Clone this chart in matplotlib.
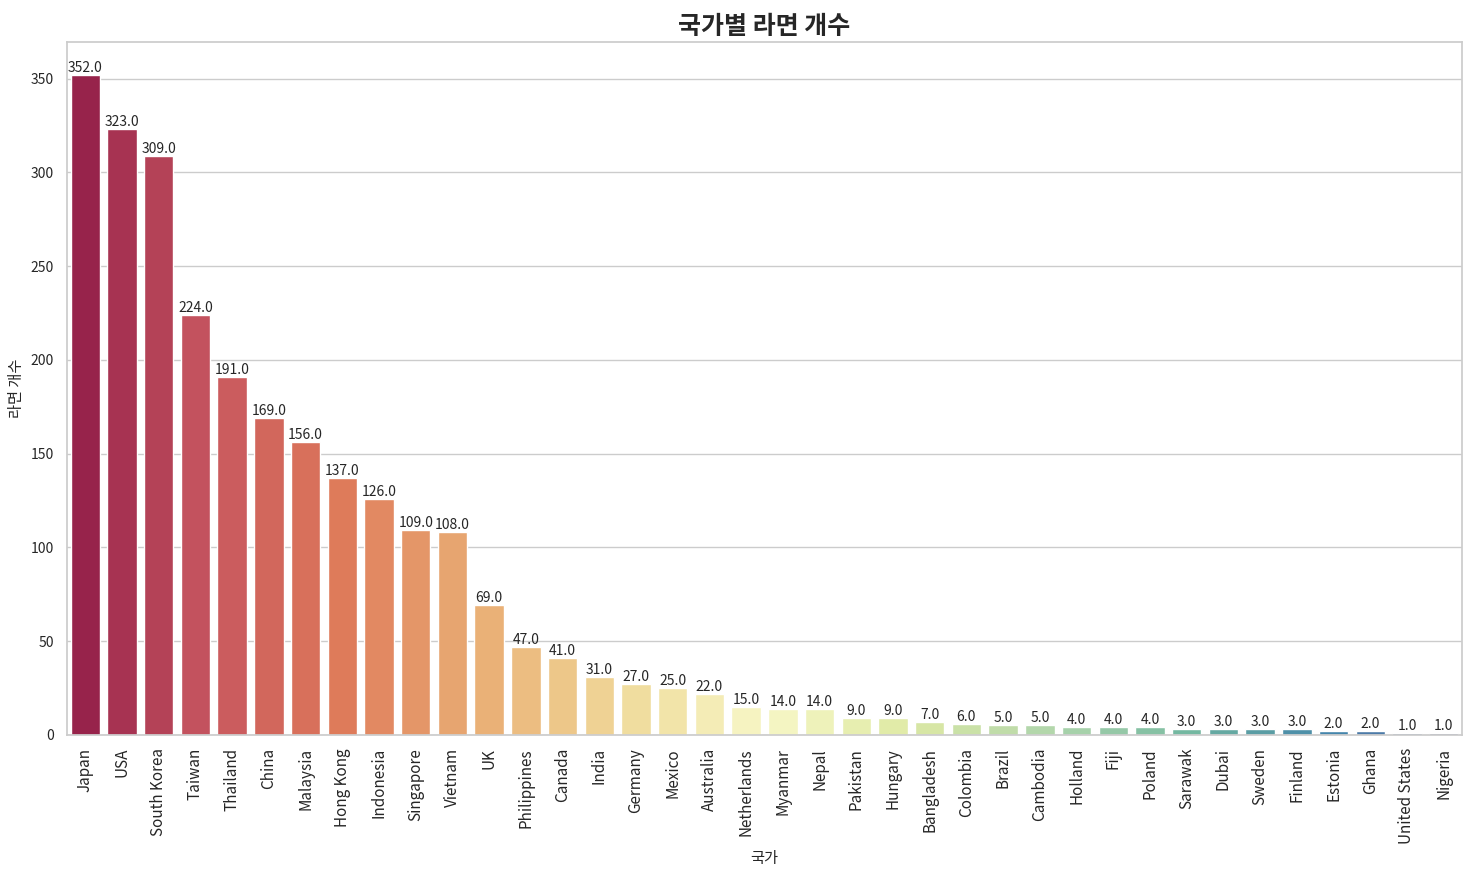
import matplotlib
matplotlib.use("Agg")
import matplotlib.pyplot as plt
import seaborn as sns
import pandas as pd

countries = [
    "Japan", "USA", "South Korea", "Taiwan", "Thailand", "China", "Malaysia",
    "Hong Kong", "Indonesia", "Singapore", "Vietnam", "UK", "Philippines",
    "Canada", "India", "Germany", "Mexico", "Australia", "Netherlands",
    "Myanmar", "Nepal", "Pakistan", "Hungary", "Bangladesh", "Colombia",
    "Brazil", "Cambodia", "Holland", "Fiji", "Poland", "Sarawak", "Dubai",
    "Sweden", "Finland", "Estonia", "Ghana", "United States", "Nigeria",
]
counts = [
    352, 323, 309, 224, 191, 169, 156, 137, 126, 109, 108, 69, 47, 41, 31,
    27, 25, 22, 15, 14, 14, 9, 9, 7, 6, 5, 5, 4, 4, 4, 3, 3, 3, 3, 2, 2, 1, 1,
]

df = pd.DataFrame({"country": countries, "count": counts})

sns.set_theme(style="whitegrid")
plt.rcParams["font.family"] = ["Noto Sans CJK KR", "DejaVu Sans"]
plt.rcParams["axes.unicode_minus"] = False

fig = plt.figure(figsize=(14.71, 8.81), dpi=100)
ax = fig.add_axes([0.0455, 0.166, 0.9484, 0.7863])

sns.barplot(data=df, x="country", y="count", hue="country",
            palette=sns.color_palette("Spectral", len(countries)),
            legend=False, ax=ax)

for c in ax.containers:
    ax.bar_label(c, fmt="%.1f", fontsize=10, padding=0)

ax.set_title("국가별 라면 개수", fontsize=18, fontweight="bold", pad=6)
ax.set_xlabel("국가", fontsize=11)
ax.set_ylabel("라면 개수", fontsize=11)
ax.tick_params(axis="x", labelrotation=90, labelsize=11)
ax.tick_params(axis="y", labelsize=10)

fig.savefig("out.png", dpi=100)
